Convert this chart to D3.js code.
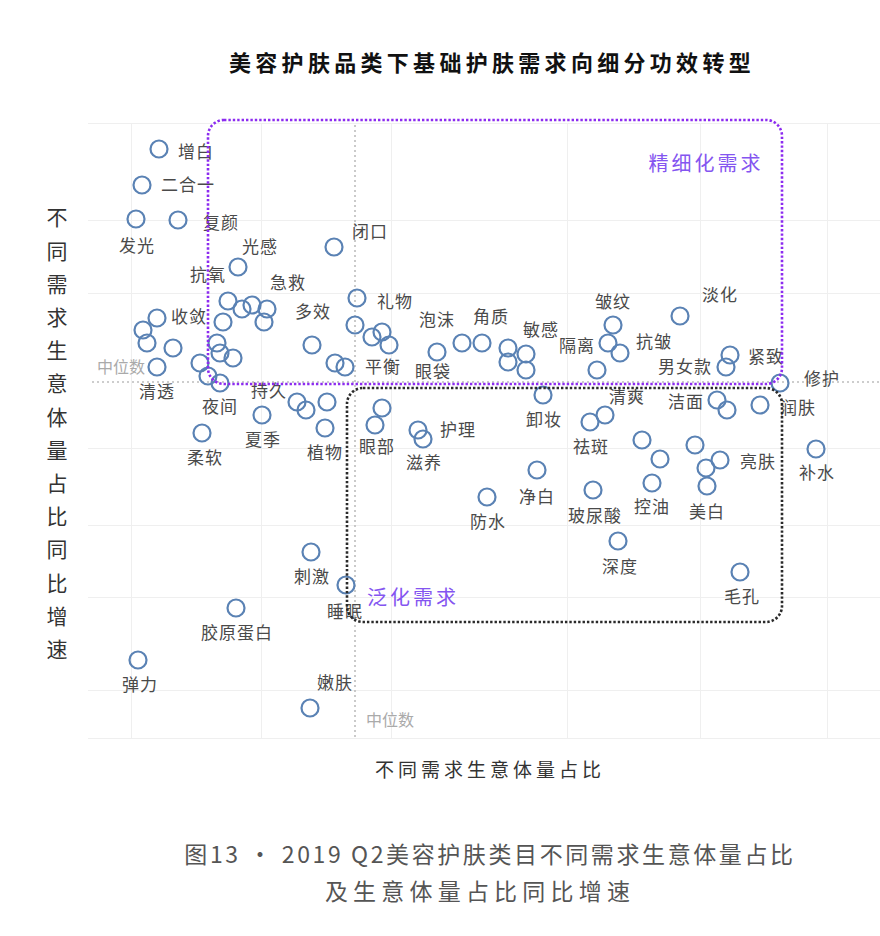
<!DOCTYPE html>
<html>
<head>
<meta charset="utf-8">
<title>美容护肤品类下基础护肤需求向细分功效转型</title>
<script src="https://cdn.jsdelivr.net/npm/d3@7"></script>
<style>
  body { margin: 0; background: #fff; }
  svg text { font-family: "Noto Sans CJK SC", "Noto Sans", sans-serif; }
  .grid line { stroke: #efefef; stroke-width: 1; }
  .grid .domain { display: none; }
  .dot { fill: none; stroke: #5a82b4; stroke-width: 2.2; }
  .lbl { fill: #4a4a4a; font-size: 17px; letter-spacing: 1px; }
</style>
</head>
<body>
<div id="chart"></div>
<script>
// need name ('' = not labelled in the picture)
const needs = [
  '增白', '二合一', '发光', '复颜', '光感', '闭口', '抗氧', '急救', '收敛', '清透',
  '夜间', '多效', '平衡', '礼物', '持久', '夏季', '植物', '柔软', '眼部', '护理',
  '滋养', '泡沫', '角质', '眼袋', '敏感', '隔离', '皱纹', '抗皱', '淡化', '紧致',
  '男女款', '修护', '卸妆', '祛斑', '清爽', '洁面', '润肤', '控油', '亮肤', '美白',
  '玻尿酸', '深度', '毛孔', '补水', '净白', '防水', '刺激', '睡眠', '胶原蛋白', '弹力',
  '嫩肤',
  '', '', '', '', '', '', '', '', '', '',
  '', '', '', '', '', '', '', '', '', '',
  '', '', '', '', '', '', '', '', ''
];
// 生意体量占比 (x)
const share = [
  15.8, 12.4, 11.2, 19.6, 31.6, 50.8, 29.6, 37.4, 15.4, 15.4,
  28.0, 46.4, 53.0, 55.4, 43.4, 36.4, 49.0, 24.4, 59.0, 67.6,
  68.6, 76.4, 80.4, 71.4, 89.2, 103.4, 106.6, 108.0, 120.0, 130.0,
  129.2, 140.0, 92.6, 102.0, 105.0, 127.4, 136.0, 114.4, 128.0, 125.4,
  102.6, 107.6, 132.0, 147.2, 91.4, 81.4, 46.2, 53.2, 31.2, 11.6,
  46.0,
  32.4, 34.4, 36.8, 28.6, 12.6, 13.4, 18.6, 27.4, 28.0, 30.6,
  24.0, 25.6, 55.0, 58.4, 60.4, 61.8, 51.0, 45.2, 49.4, 60.4,
  85.6, 85.6, 89.2, 105.6, 129.4, 112.4, 116.0, 123.0, 125.2
];
// 生意体量占比同比增速 (y)
const growth = [
  118.2, 111.0, 104.2, 104.0, 94.6, 98.6, 87.8, 86.2, 84.4, 74.6,
  71.4, 79.0, 74.6, 88.4, 67.6, 65.0, 62.4, 61.4, 63.0, 62.0,
  60.2, 79.4, 79.4, 77.6, 77.2, 74.0, 83.0, 77.4, 84.8, 77.0,
  74.6, 71.4, 69.0, 63.6, 65.0, 68.0, 67.0, 51.4, 56.0, 50.8,
  50.0, 39.8, 33.6, 58.2, 54.0, 48.6, 37.6, 31.0, 26.4, 16.0,
  6.4,
  86.2, 87.0, 83.6, 83.6, 82.0, 79.4, 78.4, 79.4, 77.4, 76.4,
  75.4, 72.8, 83.0, 80.6, 81.6, 79.0, 75.4, 66.0, 67.6, 66.4,
  78.4, 75.6, 74.0, 79.4, 66.0, 60.0, 56.2, 59.0, 54.4
];
const medianShare = 55;
const medianGrowth = 71.6;

// faint reference grid
const gridX = [10.2, 36.2, 62.2, 97.4, 124, 149.4];
const gridY = [123.4, 104, 89.4, 58.4, 43, 28.6, 10, 0.4];

// where each label sits relative to its circle (px)
const labelShift = [
  [37, 3], [46, 0], [1, 27], [43, 3], [22, -20], [36, -15], [-20, -26], [21, -26], [32, -1], [0, 25],
  [0, 24], [1, -33], [38, 0], [38, 4], [-28, -11], [1, 25], [0, 25], [3, 25], [2, 22], [40, 0],
  [1, 24], [-25, -23], [9, -26], [-4, 20], [15, -24], [-20, -24], [0, -23], [34, -11], [40, -21], [36, 2],
  [-41, 0], [42, -4], [1, 25], [1, 25], [22, -18], [-31, 2], [38, 3], [0, 24], [38, 2], [0, 26],
  [2, 26], [2, 26], [2, 25], [1, 24], [0, 27], [1, 25], [1, 25], [-1, 27], [1, 25], [2, 25],
  [25, -25]
];

// the two highlighted zones [x0, x1, y0, y1] in data units
const fineZone = [25.6, 140.4, 71.2, 124];
const broadZone = [53.4, 140.4, 23.6, 70.4];

const width = 880, height = 936;
const svg = d3.select('#chart').append('svg')
  .attr('width', width)
  .attr('height', height);

const x = d3.scaleLinear().domain([0, 160]).range([80, 880]);
const y = d3.scaleLinear().domain([0, 124]).range([740, 120]);

svg.append('g')
  .attr('class', 'grid')
  .attr('transform', `translate(0, ${y(0.4)})`)
  .call(d3.axisBottom(x).tickValues(gridX).tickSize(-(y(0.4) - y(123.4))).tickFormat(''));

svg.append('g')
  .attr('class', 'grid')
  .attr('transform', `translate(${x(1.6)}, 0)`)
  .call(d3.axisLeft(y).tickValues(gridY).tickSize(-(x(160) - x(1.6))).tickFormat(''));

// medians
svg.append('line')
  .attr('x1', x(2.4)).attr('x2', x(160))
  .attr('y1', y(medianGrowth)).attr('y2', y(medianGrowth))
  .attr('stroke', '#bdbdbd').attr('stroke-width', 1.6).attr('stroke-dasharray', '2,3');
svg.append('line')
  .attr('x1', x(medianShare)).attr('x2', x(medianShare))
  .attr('y1', y(123)).attr('y2', y(0))
  .attr('stroke', '#bdbdbd').attr('stroke-width', 1.6).attr('stroke-dasharray', '2,3');
svg.append('text')
  .attr('x', 121).attr('y', y(medianGrowth) - 15).attr('dy', '0.35em')
  .attr('text-anchor', 'middle')
  .attr('fill', '#aaa').attr('font-size', 16)
  .text('中位数');
svg.append('text')
  .attr('x', x(medianShare) + 35).attr('y', y(4))
  .attr('dy', '0.35em')
  .attr('text-anchor', 'middle')
  .attr('fill', '#aaa').attr('font-size', 16)
  .text('中位数');

const pts = d3.range(share.length).map(i => ({
  name: needs[i], x: share[i], y: growth[i], shift: labelShift[i]
}));

svg.append('g').selectAll('circle')
  .data(pts)
  .enter()
  .append('circle')
  .attr('class', 'dot')
  .attr('r', 8.5)
  .attr('cx', d => x(d.x))
  .attr('cy', d => y(d.y));

svg.append('g').selectAll('text')
  .data(pts.filter(d => d.name))
  .enter()
  .append('text')
  .attr('class', 'lbl')
  .attr('text-anchor', 'middle')
  .attr('dy', '0.35em')
  .attr('x', d => x(d.x) + d.shift[0])
  .attr('y', d => y(d.y) + d.shift[1])
  .text(d => d.name);

// zone boxes
function zone(z, colour) {
  svg.append('rect')
    .attr('x', x(z[0])).attr('y', y(z[3]))
    .attr('width', x(z[1]) - x(z[0]))
    .attr('height', y(z[2]) - y(z[3]))
    .attr('rx', 16).attr('ry', 16)
    .attr('fill', 'none')
    .attr('stroke', colour)
    .attr('stroke-width', 2.6)
    .attr('stroke-dasharray', '2.4,2');
}
zone(fineZone, '#8c2bf0');
zone(broadZone, '#2a2a2a');

svg.append('text')
  .attr('x', 706).attr('y', 164).attr('dy', '0.35em')
  .attr('text-anchor', 'middle')
  .attr('fill', '#8455f0').attr('font-size', 20).attr('letter-spacing', 3)
  .text('精细化需求');
svg.append('text')
  .attr('x', 413).attr('y', 598).attr('dy', '0.35em')
  .attr('text-anchor', 'middle')
  .attr('fill', '#8455f0').attr('font-size', 20).attr('letter-spacing', 3)
  .text('泛化需求');

// titles
svg.append('text')
  .attr('x', 492).attr('y', 63).attr('dy', '0.35em')
  .attr('text-anchor', 'middle')
  .attr('font-size', 22).attr('font-weight', 'bold').attr('letter-spacing', 4.3)
  .attr('fill', '#111')
  .text('美容护肤品类下基础护肤需求向细分功效转型');

svg.append('text')
  .attr('x', 490).attr('y', 770).attr('dy', '0.35em')
  .attr('text-anchor', 'middle')
  .attr('font-size', 19).attr('letter-spacing', 4)
  .attr('fill', '#333')
  .text('不同需求生意体量占比');

const yTitle = '不同需求生意体量占比同比增速'.split('');
svg.append('g').selectAll('text')
  .data(yTitle)
  .enter()
  .append('text')
  .attr('x', 57)
  .attr('y', (d, i) => 218 + i * 33.2)
  .attr('dy', '0.35em')
  .attr('text-anchor', 'middle')
  .attr('font-size', 21)
  .attr('fill', '#333')
  .text(d => d);

svg.append('text')
  .attr('x', 490).attr('y', 855).attr('dy', '0.35em')
  .attr('text-anchor', 'middle')
  .attr('font-size', 23).attr('letter-spacing', 2.6)
  .attr('fill', '#555')
  .text('图13 · 2019 Q2美容护肤类目不同需求生意体量占比');
svg.append('text')
  .attr('x', 480).attr('y', 892).attr('dy', '0.35em')
  .attr('text-anchor', 'middle')
  .attr('font-size', 23).attr('letter-spacing', 5.2)
  .attr('fill', '#555')
  .text('及生意体量占比同比增速');
</script>
</body>
</html>
